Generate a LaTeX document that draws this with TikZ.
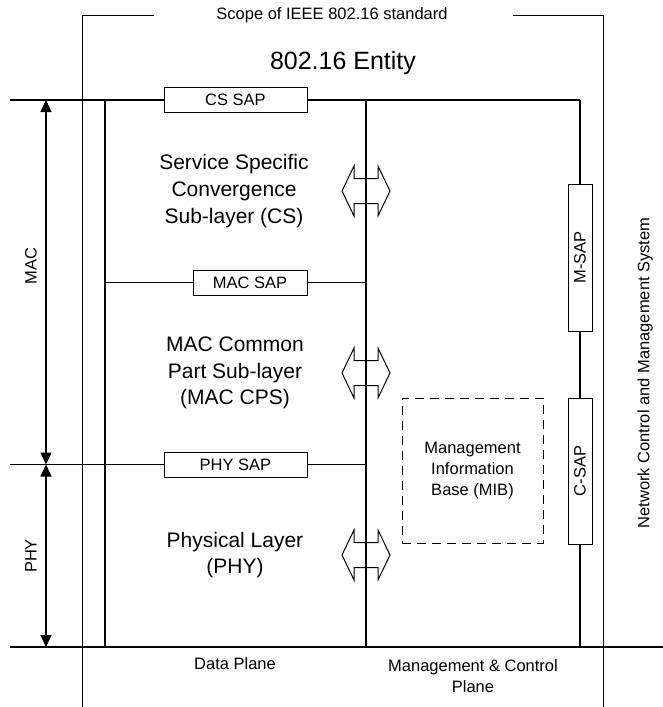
\documentclass[tikz,border=0pt]{standalone}
\usepackage{fontspec}
\setmainfont{Liberation Sans}
\usetikzlibrary{arrows.meta,positioning}

\begin{document}
\begin{tikzpicture}[x=1pt,y=-1pt,
  line/.style={line width=1.4pt},
  scopeline/.style={line width=1pt},
  sap/.style={draw,line width=1pt,fill=white,minimum height=25pt,inner sep=0pt,font=\fontsize{16.5}{19}\selectfont},
  layer/.style={align=center,font=\fontsize{21}{26.7}\selectfont},
  small/.style={align=center,font=\fontsize{16.5}{21}\selectfont},
  dblarr/.style={line width=1pt,line join=miter},
  span/.style={line width=1.4pt,{Triangle[length=12pt,width=11pt]}-{Triangle[length=12pt,width=11pt]}}]
\useasboundingbox (0,0) rectangle (663,707);

% scope of the standard
\coordinate (scBL) at (82,707);
\coordinate (scTL) at (82,15);
\coordinate (scTLe) at (154,15);
\coordinate (scTRs) at (513,15);
\coordinate (scTR) at (603,15);
\coordinate (scBR) at (603,707);
\draw[scopeline] (scBL) -- (scTL) -- (scTLe);
\draw[scopeline] (scTRs) -- (scTR) -- (scBR);
\node[small] (scope) at (332,15) {Scope of IEEE 802.16 standard};
\node[font=\fontsize{25}{30}\selectfont] (entity) at (343,63) {802.16 Entity};

% main lines
\coordinate (csL) at (10,100);
\coordinate (csR) at (580,100);
\coordinate (dT) at (105,100);
\coordinate (dB) at (105,647);
\coordinate (cT) at (366,100);
\coordinate (cB) at (366,647);
\coordinate (rB) at (580,647);
\coordinate (bL) at (10,647);
\coordinate (bR) at (663,647);
\coordinate (phyL) at (10,464.5);
\coordinate (phyR) at (366,464.5);
\coordinate (macL) at (105,282.5);
\coordinate (macR) at (366,282.5);

\draw[line] (csL) -- (csR);
\draw[line] (bL) -- (bR);
\draw[line] (dT) -- (dB);
\draw[line] (cT) -- (cB);
\draw[line] (phyL) -- (phyR);
\draw[line] (macL) -- (macR);

% SAPs
\node[sap,minimum width=143pt] (cssap) at (235.5,99.5) {CS SAP};
\node[sap,minimum width=114pt] (macsap) at (250,282.5) {MAC SAP};
\node[sap,minimum width=143pt] (physap) at (235.5,464.5) {PHY SAP};
\node[sap,rotate=90,minimum width=147pt,minimum height=24pt] (msap) at (580,257.5) {M-SAP};
\node[sap,rotate=90,minimum width=146pt,minimum height=24pt] (csap) at (580,471) {C-SAP};
\draw[line] (csR) -- (msap.east);
\draw[line] (msap.west) -- (csap.east);
\draw[line] (csap.west) -- (rB);

% layer arrows
\foreach \n/\y in {1/191,2/373,3/555} {
  \coordinate (ar\n) at (366,\y);
  \draw[dblarr] (ar\n) ++(-24,0) -- ++(12,-25) -- ++(0,12.5) -- ++(24,0) -- ++(0,-12.5)
    -- ++(12,25) -- ++(-12,25) -- ++(0,-12.5) -- ++(-24,0) -- ++(0,12.5) -- cycle;
}

% layers
\node[layer] (cs) at (234,191) {Service Specific\\Convergence\\Sub-layer (CS)};
\node[layer] (cps) at (235,373) {MAC Common\\Part Sub-layer\\(MAC CPS)};
\node[layer] (phy) at (235,555) {Physical Layer\\(PHY)};

% MIB
\node[draw,dashed,line width=1pt,dash pattern=on 9pt off 6pt,minimum width=141pt,minimum height=145pt,small] (mib) at (472.5,470.5) {Management\\Information\\Base (MIB)};

% MAC / PHY spans
\coordinate (macT) at (46,100);
\coordinate (macB) at (46,464.5);
\coordinate (phyB) at (46,647);
\draw[span] (macT) -- (macB);
\draw[span] (macB) -- (phyB);
\node[small,rotate=90] (maclbl) at (31,266) {MAC};
\node[small,rotate=90] (phylbl) at (31,556) {PHY};

% planes
\node[small] (dplane) at (235,664) {Data Plane};
\node[small] (mplane) at (473,676) {Management \& Control\\Plane};
\node[small,rotate=90] (ncms) at (645,373) {Network Control and Management System};
\end{tikzpicture}
\end{document}
